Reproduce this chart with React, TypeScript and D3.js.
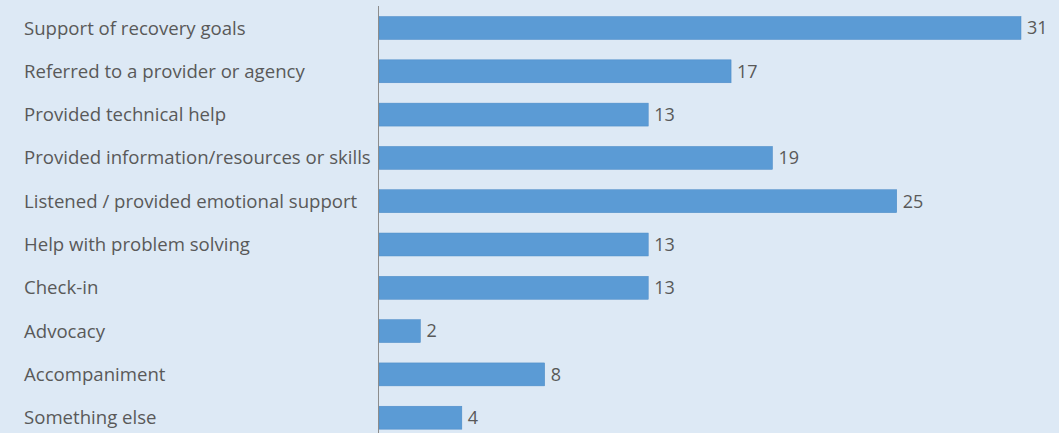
import React from "react";
import * as d3 from "d3";

const categories = [
  "Support of recovery goals",
  "Referred to a provider or agency",
  "Provided technical help",
  "Provided information/resources or skills",
  "Listened / provided emotional support",
  "Help with problem solving",
  "Check-in",
  "Advocacy",
  "Accompaniment",
  "Something else",
];
const values = [31, 17, 13, 19, 25, 13, 13, 2, 8, 4];

const W = 1059;
const H = 433;

export default function App() {
  const x = d3.scaleLinear().domain([0, 31]).range([379, 1021]);
  const y = d3
    .scaleBand<string>()
    .domain(categories)
    .range([6.35, 439.35])
    .paddingInner(0.47)
    .paddingOuter(0.235);
  const font = "'Open Sans', 'Liberation Sans', sans-serif";
  return (
    <svg
      width={W}
      height={H}
      style={{ position: "absolute", left: 0, top: 0, display: "block" }}
    >
      <rect x={0} y={0} width={W} height={H} fill="#dde9f5" />
      {categories.map((c, i) => {
        const yy = y(c)!;
        const bh = y.bandwidth();
        return (
          <g key={c}>
            <text
              x={24}
              y={yy + bh / 2}
              dy="0.35em"
              fontFamily={font}
              fontSize={18.6}
              fill="#595959"
            >
              {c}
            </text>
            <rect
              x={x(0)}
              y={yy}
              width={x(values[i]) - x(0)}
              height={bh}
              fill="#5b9bd5"
              stroke="#4a8ac6"
              strokeWidth={0.5}
            />
            <text
              x={x(values[i]) + 6}
              y={yy + bh / 2}
              dy="0.35em"
              fontFamily={font}
              fontSize={18}
              fill="#595959"
            >
              {values[i]}
            </text>
          </g>
        );
      })}
      <line x1={378.5} x2={378.5} y1={6} y2={H} stroke="#8c8c8c" strokeWidth={1} />
    </svg>
  );
}
